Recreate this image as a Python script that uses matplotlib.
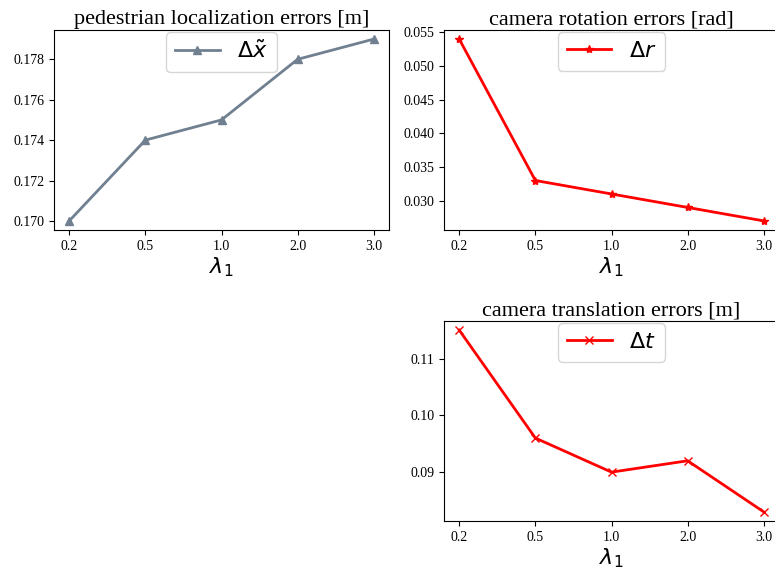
import matplotlib
matplotlib.use('Agg')
import matplotlib.pyplot as plt

plt.rcParams['font.family'] = 'Liberation Serif'
plt.rcParams['mathtext.fontset'] = 'dejavusans'

lambdas = ['0.2', '0.5', '1.0', '2.0', '3.0']
ped_err = [0.170, 0.174, 0.175, 0.178, 0.179]
rot_err = [0.054, 0.033, 0.031, 0.029, 0.027]
trans_err = [0.115, 0.096, 0.090, 0.092, 0.083]

fig = plt.figure(figsize=(7.75, 5.72), dpi=100)

w, h = 335 / 775, 200 / 572
ax1 = fig.add_axes([54 / 775, 1 - 230 / 572, w, h])
ax2 = fig.add_axes([444 / 775, 1 - 230 / 572, w, h])
ax3 = fig.add_axes([444 / 775, 1 - 521 / 572, w, h])

panels = [
    (ax1, ped_err, 'slategray', '^', r'$\Delta\tilde{x}$', 'pedestrian localization errors [m]'),
    (ax2, rot_err, 'red', '*', r'$\Delta r$', 'camera rotation errors [rad]'),
    (ax3, trans_err, 'red', 'x', r'$\Delta t$', 'camera translation errors [m]'),
]

x = range(len(lambdas))
for ax, y, c, m, lab, title in panels:
    ax.plot(x, y, color=c, marker=m, linewidth=2, markersize=6, label=lab)
    ax.set_xticks(list(x))
    ax.set_xticklabels(lambdas)
    ax.tick_params(labelsize=10)
    ax.set_title(title, fontsize=16, pad=4)
    ax.set_xlabel(r'$\lambda_1$', fontsize=16, labelpad=2)
    ax.legend(loc='upper center', fontsize=16, borderaxespad=0.1)

fig.savefig('out.png', dpi=100)
